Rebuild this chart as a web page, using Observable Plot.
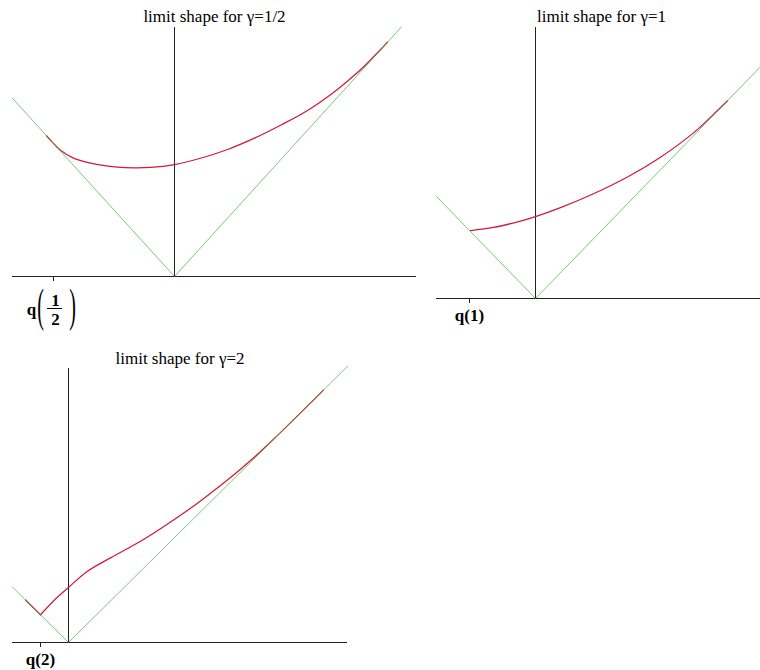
<!DOCTYPE html>
<html>
<head>
<meta charset="utf-8">
<script src="https://cdn.jsdelivr.net/npm/d3@7"></script>
<script src="https://cdn.jsdelivr.net/npm/@observablehq/plot@0.6"></script>
<style>
  html, body { margin: 0; padding: 0; background: #fff; }
  #chart { position: relative; width: 760px; height: 670px; background: #fff; }
  #chart > svg { position: absolute; overflow: visible; }
</style>
</head>
<body>
<div id="chart"></div>
<script>
// Limit shape (red curve) for each γ, as sampled (x, y) pairs.
const halfX = [-1.28, -1.22, -1.14, -1.01, -0.84, -0.57, -0.40, -0.24, 0, 0.26, 0.53, 0.80, 1.07, 1.33, 1.59, 1.76, 1.89, 2.13];
const halfY = [1.28, 1.22, 1.148, 1.076, 1.030, 0.994, 0.988, 0.992, 1.018, 1.075, 1.155, 1.258, 1.380, 1.510, 1.674, 1.800, 1.905, 2.13];

const oneX = [-0.65, -0.42, -0.15, 0, 0.25, 0.58, 0.92, 1.25, 1.58, 1.82, 1.92];
const oneY = [0.66, 0.69, 0.752, 0.795, 0.882, 1.017, 1.180, 1.372, 1.608, 1.825, 1.92];

// For γ=2 the first segment runs along the left asymptote up to the corner at q(2).
const twoX = [-0.43, -0.28, -0.14, 0, 0.19, 0.42, 0.69, 0.92, 1.12, 1.32, 1.52, 1.72, 1.9, 2.05, 2.55];
const twoY = [0.43, 0.28, 0.43, 0.556, 0.72, 0.855, 1.005, 1.15, 1.285, 1.43, 1.585, 1.75, 1.91, 2.053, 2.55];

// Asymptote y = |x| (green V) in each panel.
const vHalfX = [-1.62, 0, 2.27], vHalfY = [1.62, 0, 2.27];
const vOneX = [-0.99, 0, 2.25], vOneY = [0.99, 0, 2.25];
const vTwoX = [-0.56, 0, 2.79], vTwoY = [0.56, 0, 2.79];

// Position of q(γ) on the horizontal axis.
const qHalf = -1.21;
const qOne = -0.66;
const qTwo = -0.28;

const titles = ["limit shape for γ=1/2", "limit shape for γ=1", "limit shape for γ=2"];
const qLabels = ["q(1)", "q(2)"];
const fracParts = ["q", "(", "1", "2", ")"];

const RED = "#d4183c";
const GREEN = "#3cb43c";
const AXIS = "#222";
const FONT = "'Liberation Serif', 'Times New Roman', serif";

const pts = (xs, ys) => xs.map((x, i) => ({x, y: ys[i]}));

function redMarks(xs, ys, corner) {
  // corner: index where the curve leaves a straight edge with a kink
  if (corner == null) {
    return [Plot.line(pts(xs, ys), {x: "x", y: "y", stroke: RED, strokeWidth: 1.25, curve: "catmull-rom"})];
  }
  return [
    Plot.line(pts(xs.slice(0, corner + 1), ys.slice(0, corner + 1)), {x: "x", y: "y", stroke: RED, strokeWidth: 1.25}),
    Plot.line(pts(xs.slice(corner), ys.slice(corner)), {x: "x", y: "y", stroke: RED, strokeWidth: 1.25, curve: "catmull-rom"})
  ];
}

function panel({curveX, curveY, corner, vX, vY, q, title, titleDx, titleDy, tickLabel,
                width, height, margins, xDomain, yDomain, extra = []}) {
  return Plot.plot({
    width, height,
    marginTop: margins[0], marginRight: margins[1], marginBottom: margins[2], marginLeft: margins[3],
    x: {domain: xDomain},
    y: {domain: yDomain, axis: null},
    style: {fontFamily: FONT, fontSize: "17px", color: "#000", background: "transparent", overflow: "visible"},
    marks: [
      Plot.ruleY([0], {stroke: AXIS, strokeWidth: 1}),
      Plot.ruleX([0], {stroke: AXIS, strokeWidth: 1}),
      Plot.axisX({
        ticks: [q], tickSize: 5, tickPadding: 5, label: null,
        tickFormat: () => tickLabel, fontWeight: "bold", fontSize: 17, stroke: AXIS
      }),
      ...redMarks(curveX, curveY, corner),
      Plot.line(pts(vX, vY), {x: "x", y: "y", stroke: GREEN, strokeWidth: 1, strokeOpacity: 0.7}),
      Plot.text([title], {text: d => d, frameAnchor: "top", dx: titleDx, dy: titleDy,
                          lineAnchor: "bottom", fontSize: 17, fill: "#000"}),
      ...extra
    ]
  });
}

// Stretch parentheses vertically so they enclose the stacked fraction.
function stretchGlyphs(svg, glyphs, sy) {
  d3.select(svg).selectAll("text").each(function () {
    if (!glyphs.includes(this.textContent)) return;
    const t = d3.select(this);
    const x = +(t.attr("x") || 0), y = +(t.attr("y") || 0);
    const base = t.attr("transform") || "";
    t.attr("x", null).attr("y", null)
     .attr("transform", `${base} translate(${x},${y}) scale(1,${sy})`);
  });
}

const at = {x: [qHalf], y: [0], text: d => d, lineAnchor: "bottom", fill: "#000"};
const fractionMarks = [
  Plot.text([fracParts[0]], {...at, dx: -22, dy: 38, fontSize: 17, fontWeight: "bold"}),
  Plot.text([fracParts[1]], {...at, dx: -13, dy: 44, fontSize: 20}),
  Plot.text([fracParts[2]], {...at, dx: 2, dy: 29, fontSize: 17, fontWeight: "bold"}),
  Plot.ruleY([0], {x1: qHalf - 0.06, x2: qHalf + 0.09, dy: 32, stroke: "#000", strokeWidth: 1}),
  Plot.text([fracParts[3]], {...at, dx: 2, dy: 48, fontSize: 17, fontWeight: "bold"}),
  Plot.text([fracParts[4]], {...at, dx: 19, dy: 44, fontSize: 20})
];

const p1 = panel({
  curveX: halfX, curveY: halfY, vX: vHalfX, vY: vHalfY, q: qHalf,
  title: titles[0], titleDx: 0, titleDy: -6, tickLabel: "",
  width: 420, height: 335, margins: [27, 4, 59, 12],
  xDomain: [-1.62, 2.42], yDomain: [0, 2.264], extra: fractionMarks
});
stretchGlyphs(p1, ["(", ")"], 2.35);

const p2 = panel({
  curveX: oneX, curveY: oneY, vX: vOneX, vY: vOneY, q: qOne,
  title: titles[1], titleDx: 3, titleDy: -6, tickLabel: qLabels[0],
  width: 340, height: 340, margins: [27, 0, 42, 16],
  xDomain: [-0.99, 2.25], yDomain: [0, 2.631]
});

const p3 = panel({
  curveX: twoX, curveY: twoY, corner: 1, vX: vTwoX, vY: vTwoY, q: qTwo,
  title: titles[2], titleDx: 0, titleDy: -5, tickLabel: qLabels[1],
  width: 360, height: 330, margins: [28, 13, 28, 12],
  xDomain: [-0.56, 2.79], yDomain: [0, 2.768]
});

const chart = document.getElementById("chart");
[[p1, 0, 0], [p2, 420, 0], [p3, 0, 340]].forEach(([svg, left, top]) => {
  svg.style.left = left + "px";
  svg.style.top = top + "px";
  chart.appendChild(svg);
});
</script>
</body>
</html>
